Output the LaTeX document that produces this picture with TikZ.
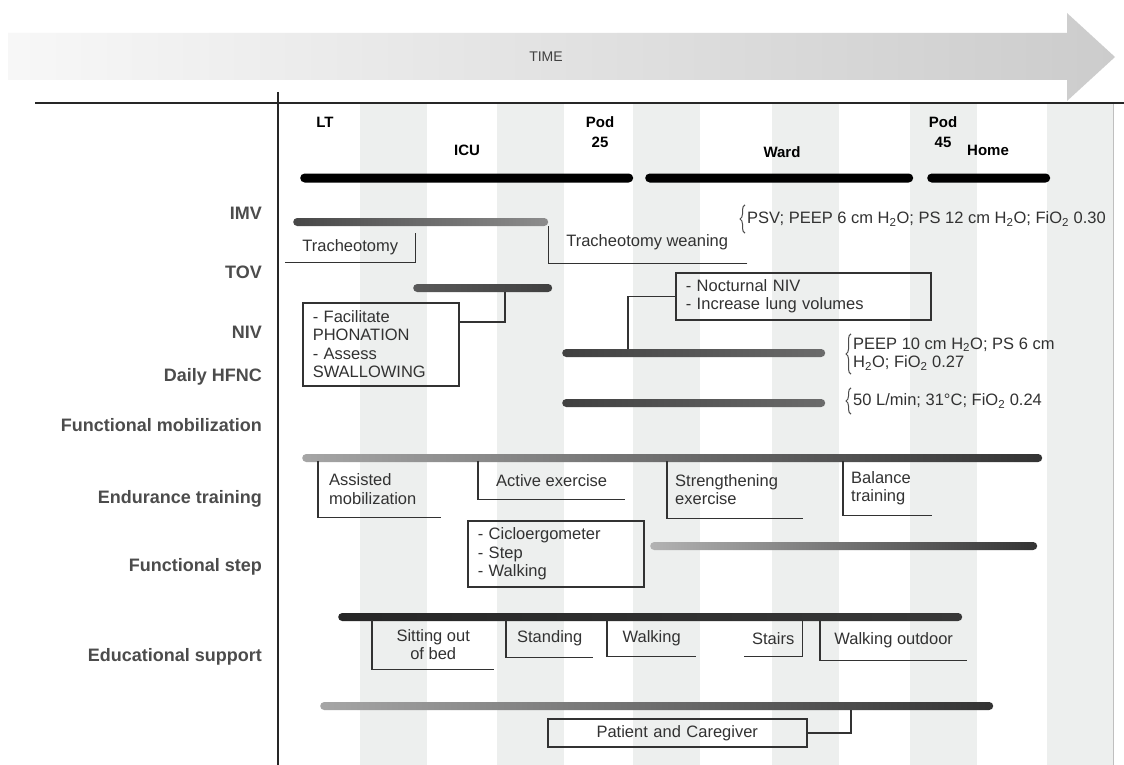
\documentclass[tikz,border=0pt]{standalone}
\usepackage{fontspec}
\setmainfont{Liberation Sans}
\usepackage{tikz}
\usetikzlibrary{positioning}
\usetikzlibrary{decorations.pathreplacing}
\definecolor{stripe}{RGB}{237,239,238}
\definecolor{ink}{RGB}{50,50,50}
\newcommand{\HtwoO}{H\textsubscript{2}O}
\newcommand{\FiOtwo}{FiO\textsubscript{2}}
\tikzstyle{rowlab} = [anchor=east, inner sep=0pt, font=\fontsize{18}{20}\selectfont\bfseries, text=black!70]
\tikzstyle{hdr} = [inner sep=0pt, align=center, font=\fontsize{15}{20}\selectfont\bfseries, text=black]
\tikzstyle{phase} = [fill=black, rounded corners=4.5pt, minimum height=9pt, inner sep=0pt, anchor=west]
\tikzstyle{bar} = [rounded corners=4pt, minimum height=8pt, inner sep=0pt, anchor=west]
\tikzstyle{tag} = [inner sep=0pt, align=center, anchor=north west]
\tikzstyle{box} = [draw=ink, line width=1.5pt, inner xsep=10pt, inner ysep=4pt, align=left, anchor=north west]
\tikzstyle{hook} = [draw=ink, line width=1.5pt]
\tikzstyle{note} = [anchor=west, inner xsep=2pt, inner ysep=0pt, align=left]
\tikzstyle{curly} = [draw=black!70, line width=1pt, decorate, decoration={brace, amplitude=5pt}]

\begin{document}
\begin{tikzpicture}[x=1pt, y=-1pt, font=\fontsize{16.5}{18.5}\selectfont, text=ink]
\useasboundingbox[fill=white] (0,0) rectangle (1124,765);
% time arrow
\shade[left color=black!3, right color=black!20] (8,33) -- (1067,33) -- (1067,13) -- (1115,57) -- (1067,101) -- (1067,80) -- (8,80) -- cycle;
\node[font=\fontsize{14}{16}\selectfont, text=black!75] (time) at (546,57) {TIME};
% day columns
\foreach \x in {360,497,633,772,910,1047}
  \fill[stripe] (\x,104) rectangle ++(67,661);
\draw[black!25] (1113,104) -- (1113,765);
\draw[line width=1.5pt, black!85] (35,103) -- (1124,103);
\draw[line width=1.5pt, black!85] (278,92) -- (278,765);

% phases
\node[hdr] (lt) at (325,122) {LT};
\node[hdr] (pod25) at (600,132) {Pod\\25};
\node[hdr] (icu) at (467,150) {ICU};
\node[hdr] (ward) at (782,152) {Ward};
\node[hdr] (pod45) at (943,132) {Pod\\45};
\node[hdr] (home) at (988,150) {Home};
\node[phase, minimum width=333pt] (icubar) at (300,178) {};
\node[phase, minimum width=268pt] (wardbar) at (645,178) {};
\node[phase, minimum width=123pt] (homebar) at (927,178) {};

% rows
\node[rowlab] (limv) at (262,213) {IMV};
\node[rowlab] (ltov) at (262,272) {TOV};
\node[rowlab] (lniv) at (262,332) {NIV};
\node[rowlab] (lhfnc) at (262,377) {Daily HFNC};
\node[rowlab] (lmob) at (262,425) {Functional mobilization};
\node[rowlab] (lend) at (262,499) {Endurance training};
\node[rowlab] (lstep) at (262,567) {Functional step};
\node[rowlab] (ledu) at (262,657) {Educational support};

% treatment bars
\node[bar, minimum width=255pt, left color=black!72, right color=black!45] (imv) at (293,222) {};
\node[bar, minimum width=139pt, left color=black!65, right color=black!75] (tov) at (413,288) {};
\node[bar, minimum width=263pt, left color=black!75, right color=black!58] (niv) at (562,353) {};
\node[bar, minimum width=263pt, left color=black!75, right color=black!58] (hfnc) at (562,403) {};
\node[bar, minimum width=740pt, left color=black!35, right color=black!80] (mob) at (302,458) {};
\node[bar, minimum width=387pt, left color=black!30, right color=black!80] (endur) at (650,546) {};
\node[bar, minimum width=624pt, left color=black!85, right color=black!78] (fstep) at (338,617) {};
\node[bar, minimum width=673pt, left color=black!35, right color=black!80] (edu) at (320,706) {};
\coordinate (tovtap) at (505,292);
\coordinate (nivtap) at (628,349);
\coordinate (edutap) at (851,710);

% labels and boxes
\node[tag, minimum width=130pt, minimum height=29pt] (trach) at (285,233) {Tracheotomy};
\node[tag, minimum width=200pt, minimum height=41pt] (wean) at (547,222) {Tracheotomy weaning};
\node[box, text width=136pt, minimum height=83pt] (phon) at (302,302) {- Facilitate\\PHONATION\\- Assess\\SWALLOWING};
\node[box, text width=235pt, minimum height=47pt] (noct) at (675,272) {- Nocturnal NIV\\- Increase lung volumes};
\node[tag, align=left, text width=101pt, inner xsep=11pt, minimum height=56pt] (assist) at (318,461) {Assisted\\mobilization};
\node[tag, minimum width=147pt, minimum height=38pt] (active) at (478,461) {Active exercise};
\node[tag, align=left, text width=120pt, inner xsep=8pt, minimum height=57pt] (streng) at (667,461) {Strengthening\\exercise};
\node[tag, align=left, text width=73pt, inner xsep=8pt, minimum height=54pt] (balance) at (843,461) {Balance\\training};
\node[box, text width=156pt, minimum height=66pt] (cyc) at (467,520) {- Cicloergometer\\- Step\\- Walking};
\node[tag, minimum width=122pt, minimum height=49pt] (sit) at (372,620) {Sitting out\\of bed};
\node[tag, minimum width=87pt, minimum height=37pt] (stand) at (506,620) {Standing};
\node[tag, minimum width=89pt, minimum height=36pt] (walk) at (607,620) {Walking};
\node[tag, minimum width=58pt, minimum height=36pt] (stairs) at (744,620) {Stairs};
\node[tag, minimum width=147pt, minimum height=40pt] (outdoor) at (820,620) {Walking outdoor};
\node[box, align=center, text width=239pt, minimum height=28pt] (pat) at (547,718) {Patient and Caregiver};

\draw[hook] (trach.north east) |- (trach.south west);
\draw[hook] (wean.south east) -| (imv.south east);
\draw[hook] ([yshift=-20pt]phon.north east) -| (tovtap);
\draw[hook] (noct.west) -| (nivtap);
\draw[hook] (assist.north west) |- (assist.south east);
\draw[hook] (active.north west) |- (active.south east);
\draw[hook] (streng.north west) |- (streng.south east);
\draw[hook] (balance.north west) |- (balance.south east);
\draw[hook] (sit.north west) |- (sit.south east);
\draw[hook] (stand.north west) |- (stand.south east);
\draw[hook] (walk.north west) |- (walk.south east);
\draw[hook] (stairs.north east) |- (stairs.south west);
\draw[hook] (outdoor.north west) |- (outdoor.south east);
\draw[hook] (pat.east) -| (edutap);

% settings
\node[note, minimum height=28pt] (psv) at (745,219) {PSV; PEEP 6 cm \HtwoO; PS 12 cm \HtwoO; \FiOtwo{} 0.30};
\node[note, minimum height=40pt] (nivset) at (851,354) {PEEP 10 cm \HtwoO; PS 6 cm\\\HtwoO; \FiOtwo{} 0.27};
\node[note, minimum height=26pt] (hfncset) at (851,401) {50 L/min; 31°C; \FiOtwo{} 0.24};
\draw[curly] (psv.south west) -- (psv.north west);
\draw[curly] (nivset.south west) -- (nivset.north west);
\draw[curly] (hfncset.south west) -- (hfncset.north west);
\end{tikzpicture}
\end{document}
